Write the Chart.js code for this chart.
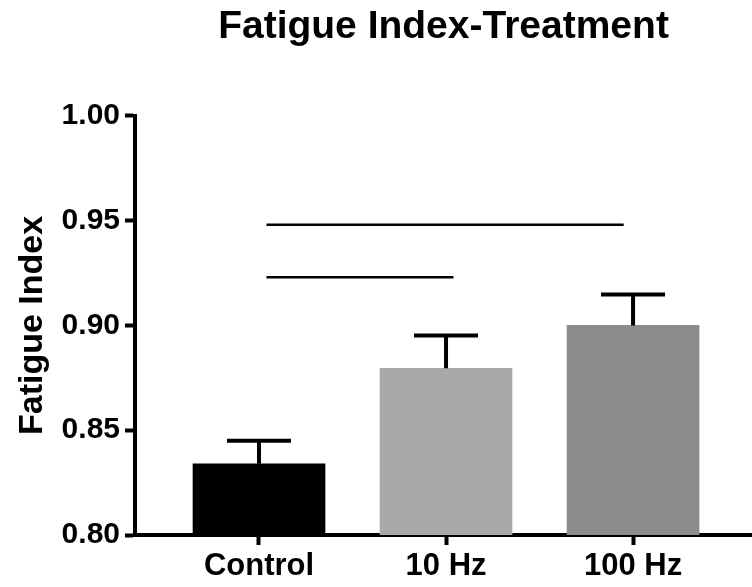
<!DOCTYPE html>
<html>
<head>
<meta charset="utf-8">
<script src="https://cdn.jsdelivr.net/npm/chart.js@4/dist/chart.umd.min.js"></script>
<style>
  html, body { margin: 0; padding: 0; background: #fff; }
  #wrap { width: 752px; height: 587px; }
</style>
</head>
<body>
<div id="wrap"><canvas id="chart"></canvas></div>
<script>
var categories = ["Control", "10 Hz", "100 Hz"];
var means = [0.834, 0.8795, 0.900];
var errors = [0.011, 0.0157, 0.0148];
var yTicks = [0.80, 0.85, 0.90, 0.95, 1.00];
// significance lines, x in category units
var sigFrom = [0.04, 0.04];
var sigTo = [1.04, 1.95];
var sigY = [0.923, 0.948];

var FONT = "'Liberation Sans', Arial, sans-serif";

// draws the upper half of the SEM bars
var errorBars = {
    id: 'errorBars',
    afterDatasetsDraw: function(chart) {
        var ctx = chart.ctx;
        var xs = chart.scales.x, ys = chart.scales.y;
        ctx.save();
        ctx.strokeStyle = '#000';
        ctx.lineWidth = 4;
        for (var i = 0; i < means.length; i++) {
            var x = xs.getPixelForValue(i);
            var top = ys.getPixelForValue(means[i]);
            var hi = ys.getPixelForValue(means[i] + errors[i]);
            ctx.beginPath();
            ctx.moveTo(x, top);
            ctx.lineTo(x, hi);
            ctx.moveTo(x - 32, hi);
            ctx.lineTo(x + 32, hi);
            ctx.stroke();
        }
        ctx.restore();
    }
};

var sigSets = sigY.map(function(y, i) {
    return {
        type: 'line',
        data: [{x: sigFrom[i], y: y}, {x: sigTo[i], y: y}],
        borderColor: '#000',
        borderWidth: 2.5,
        pointRadius: 0,
        fill: false
    };
});

var ctx = document.getElementById("chart");
var chart = new Chart(ctx, {
    type: 'bar',
    data: {
        datasets: [{
            label: 'Fatigue Index',
            data: categories.map(function(c, i) { return {x: i, y: means[i]}; }),
            backgroundColor: ['#000000', '#a9a9ab', '#8c8c8c'],
            borderWidth: 0,
            barThickness: 132
        }].concat(sigSets)
    },
    options: {
        responsive: true,
        maintainAspectRatio: false,
        animation: false,
        layout: { padding: 0 },
        plugins: {
            legend: { display: false },
            tooltip: { enabled: false },
            title: {
                display: true,
                text: 'Fatigue Index-Treatment',
                color: '#000',
                fullSize: false,
                font: { family: FONT, size: 39, weight: 'bold' },
                padding: { top: 4, bottom: 65 }
            }
        },
        scales: {
            x: {
                type: 'linear',
                offset: false,
                min: -0.663,
                max: 2.636,
                afterBuildTicks: function(s) {
                    s.ticks = categories.map(function(c, i) { return {value: i}; });
                },
                afterFit: function(s) { s.height = 52; },
                ticks: {
                    autoSkip: false,
                    maxRotation: 0,
                    padding: 3,
                    color: '#000',
                    font: { family: FONT, size: 31, weight: 'bold' },
                    callback: function(v) { return categories[v]; }
                },
                grid: { offset: false, drawOnChartArea: false, tickLength: 10, tickWidth: 4, tickColor: '#000' },
                border: { color: '#000', width: 4 }
            },
            y: {
                min: 0.8,
                max: 1.0,
                afterBuildTicks: function(s) {
                    s.ticks = yTicks.map(function(v) { return {value: v}; });
                },
                afterFit: function(s) { s.width = 135; },
                ticks: {
                    padding: 5,
                    color: '#000',
                    font: { family: FONT, size: 30, weight: 'bold' },
                    callback: function(v) { return v.toFixed(2); }
                },
                grid: { drawOnChartArea: false, tickLength: 10, tickWidth: 4, tickColor: '#000' },
                border: { color: '#000', width: 4 },
                title: {
                    display: true,
                    text: 'Fatigue Index',
                    color: '#000',
                    font: { family: FONT, size: 34, weight: 'bold' },
                    padding: { top: 12, bottom: 0 }
                }
            }
        }
    },
    plugins: [errorBars]
});
</script>
</body>
</html>
